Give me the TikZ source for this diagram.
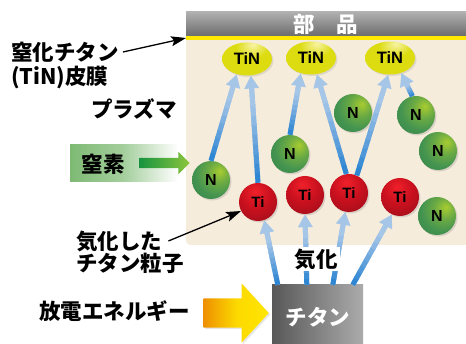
\documentclass[tikz,border=0pt]{standalone}
\usepackage{fontspec}
\newfontfamily\jpfont{Noto Sans CJK JP}
\newfontfamily\atomfont{Liberation Sans}
\usepackage{tikz}
\usetikzlibrary{arrows.meta,calc,shapes.geometric,shapes.arrows,shadows}

\definecolor{plasma}{HTML}{F6ECDC}
\definecolor{barlite}{HTML}{B0B0B0}
\definecolor{bardark}{HTML}{6C6C6C}
\definecolor{filmyel}{HTML}{FFE800}
\definecolor{nhi}{HTML}{A8CC30}
\definecolor{nbase}{HTML}{449450}
\definecolor{nedge}{HTML}{2E7A44}
\definecolor{tihi}{HTML}{F0202A}
\definecolor{tibase}{HTML}{C8101E}
\definecolor{tiedge}{HTML}{8E0E1A}
\definecolor{tinhi}{HTML}{F8F4A8}
\definecolor{tinbase}{HTML}{DCDC10}
\definecolor{tinedge}{HTML}{C8C400}
\definecolor{arrdark}{HTML}{2F86D2}
\definecolor{arrlite}{HTML}{A6C6E8}
\definecolor{boxgreen}{HTML}{7EBA74}
\definecolor{feeddark}{HTML}{179440}
\definecolor{feedlite}{HTML}{8CC63C}
\definecolor{sparkorg}{HTML}{EE9000}
\definecolor{sparkyel}{HTML}{FFE600}
\definecolor{blockdark}{HTML}{585858}
\definecolor{blocklite}{HTML}{ABABAB}

% ball shadings, light falling from above
\pgfdeclareradialshading{nshade}{\pgfpoint{12bp}{12bp}}{color(0bp)=(nhi); color(14bp)=(nhi!40!nbase); color(28bp)=(nbase); color(55bp)=(nedge); color(80bp)=(nedge)}
\pgfdeclareradialshading{tishade}{\pgfpoint{-4bp}{14bp}}{color(0bp)=(tihi); color(20bp)=(tibase); color(48bp)=(tiedge); color(80bp)=(tiedge)}
\pgfdeclareradialshading{tinshade}{\pgfpoint{6bp}{22bp}}{color(0bp)=(tinhi); color(16bp)=(tinbase); color(50bp)=(tinbase); color(75bp)=(tinedge)}

% pale arrow, deep blue at its foot
\newcommand{\liftarrow}[2]{%
  \draw[lift] (#1) -- (#2);
  \coordinate (lfa) at (#1);
  \coordinate (lfb) at ($(#2)!12pt!(#1)$);
  \foreach \k in {0,...,9}{%
    \pgfmathtruncatemacro{\mixk}{min(100,\k*13)}
    \draw[line width=5pt,draw=arrlite!\mixk!arrdark] ($(lfa)!{\k/10}!(lfb)$) -- ($(lfa)!{(\k+1.2)/10}!(lfb)$);
  }%
}

\begin{document}
\begin{tikzpicture}[
        x=1pt,y=-1pt,
        every node/.append style={inner sep=0pt},
        lbl/.style={font=\jpfont\bfseries\fontsize{21.5}{25}\selectfont},
        lift/.style={line width=5pt,draw=arrlite,-{Triangle[length=13pt,width=14pt]}},
        pointer/.style={line width=1.3pt,-{Stealth[length=15pt,width=10pt,inset=3pt]}}
    ]
    \tikzstyle{nat}=[circle,minimum size=38pt,shading=nshade,drop shadow={shadow xshift=1.5pt,shadow yshift=-1.5pt,opacity=0.25},font=\atomfont\bfseries\fontsize{16}{16}\selectfont];
    \tikzstyle{tiat}=[nat,shading=tishade,font=\atomfont\bfseries\fontsize{15}{15}\selectfont];
    \tikzstyle{tinat}=[ellipse,minimum width=50pt,minimum height=33pt,shading=tinshade,drop shadow={shadow xshift=1.5pt,shadow yshift=-1.5pt,opacity=0.2},font=\atomfont\bfseries\fontsize{16.5}{17}\selectfont];
    \useasboundingbox (0,0) rectangle (466,344);
    % chamber
    \fill[plasma] (186,40) -- (186,235) .. controls (186,245) .. (196,245) -- (466,245) -- (466,40) -- cycle;
    \node[lbl,top color=barlite,bottom color=bardark,minimum width=280pt,minimum height=24pt,text=white] (part) at (326,24) {部　品};
    \fill[filmyel] (186,36) rectangle (466,40);
    \coordinate (film) at (186,38);
    % atoms
    \node[tinat] (tin1) at (247,59) {TiN};
    \node[tinat] (tin2) at (311,58) {TiN};
    \node[tinat] (tin3) at (390,58) {TiN};
    \node[nat] (n1) at (211,180) {N};
    \node[nat] (n2) at (290,154) {N};
    \node[nat] (n3) at (353,113) {N};
    \node[nat] (n4) at (416,115) {N};
    \node[nat] (n5) at (438,151) {N};
    \node[nat] (n6) at (437,216) {N};
    \node[tiat] (ti1) at (258,202) {Ti};
    \node[tiat] (ti2) at (305,195) {Ti};
    \node[tiat] (ti3) at (349,193) {Ti};
    \node[tiat] (ti4) at (400,197) {Ti};
    % target and feeds
    \node[left color=blockdark,right color=blocklite,minimum width=91pt,minimum height=59pt] (tiblock) at (317.5,314.5) {};
    \node[lbl,text=white] (tilbl) at (318,317) {チタン};
    \node[single arrow,single arrow head extend=15pt,single arrow tip angle=95,minimum height=65pt,inner ysep=14.5pt,inner xsep=0pt,left color=sparkorg,right color=sparkyel,middle color=sparkyel!85!sparkorg,drop shadow={shadow xshift=1.5pt,shadow yshift=-1.5pt,opacity=0.2}] (spark) at (229.5,313) {};
    \node[left color=boxgreen,right color=white,middle color=boxgreen!70!white,minimum width=108pt,minimum height=37pt] (nbox) at (124,163.5) {};
    \node[single arrow,single arrow head extend=6pt,minimum height=50pt,inner ysep=5pt,inner xsep=0pt,left color=feeddark,right color=feedlite] (feed) at (162,163) {};
    % labels
    \node[lbl,anchor=west] (film1) at (11,52) {窒化チタン};
    \node[lbl,anchor=west] (film2) at (11,78) {(TiN)皮膜};
    \node[lbl] (plasmalbl) at (134,109) {プラズマ};
    \node[lbl] (nitro) at (103,164) {窒素};
    \node[lbl,anchor=west] (vap1) at (76,241) {気化した};
    \node[lbl,anchor=west] (vap2) at (76,263.5) {チタン粒子};
    \node[lbl,anchor=west] (spk) at (39,311) {放電エネルギー};
    \draw[pointer] ([xshift=4pt]film1.east) -- (film);
    \draw[pointer] ([xshift=6pt]vap1.east) -- (ti1.208);
    % paths up to the film
    \liftarrow{n1.north}{tin1.236}
    \liftarrow{ti1.north}{tin1.283}
    \liftarrow{n2.north}{tin2.236}
    \liftarrow{ti3.98}{tin2.290}
    \liftarrow{ti3.66}{tin3.264}
    \liftarrow{n4.101}{tin3.307}
    % vapour leaving the target
    \coordinate (foot1) at ([xshift=6pt]tiblock.north west);
    \coordinate (foot2) at ([xshift=35pt]tiblock.north west);
    \coordinate (foot3) at ([xshift=61pt]tiblock.north west);
    \coordinate (foot4) at ([xshift=81pt]tiblock.north west);
    \liftarrow{foot1}{ti1.289}
    \liftarrow{foot2}{ti2.270}
    \liftarrow{foot3}{ti3.259}
    \liftarrow{foot4}{ti4.245}
    \node[lbl,fill=white,inner sep=2pt] (vapor) at (316,259) {気化};
\end{tikzpicture}
\end{document}
